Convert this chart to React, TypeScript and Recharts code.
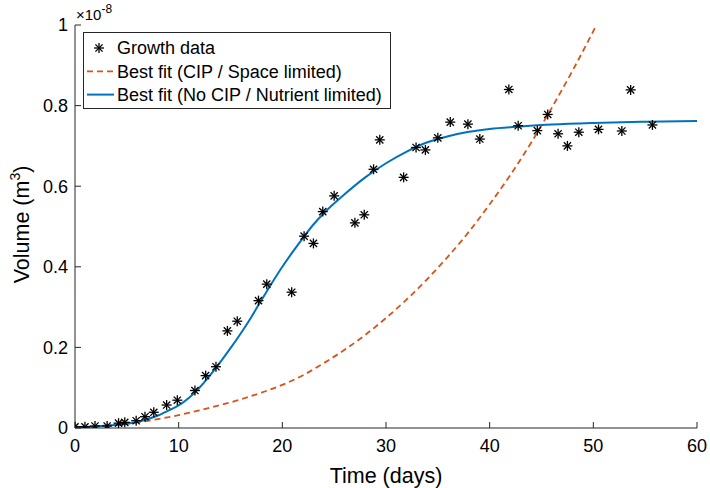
import React from "react"
import { ComposedChart, Line, Scatter, XAxis, YAxis, Legend } from "recharts"

const xTicks = [0, 10, 20, 30, 40, 50, 60]
const yTicks = [0, 0.2, 0.4, 0.6, 0.8, 1]

// measured tumour volume, units of 1e-8 m^3
const growthDays = [
    0, 0.96, 1.93, 3.1, 4.2, 4.8, 5.9, 6.75, 7.6, 8.84, 9.87, 11.57, 12.6, 13.6, 14.7, 15.65,
    17.7, 18.5, 20.9, 22.1, 23.0, 23.9, 25.0, 27.0, 27.9, 28.8, 29.4, 31.7, 32.9, 33.8, 35.0,
    36.2, 37.9, 39.05, 41.85, 42.75, 44.6, 45.6, 46.6, 47.5, 48.6, 50.5, 52.75, 53.6, 55.7,
]
const growthVolume = [
    0.003, 0.003, 0.005, 0.005, 0.012, 0.014, 0.018, 0.028, 0.039, 0.057, 0.069, 0.093, 0.13, 0.152, 0.241, 0.265,
    0.316, 0.357, 0.337, 0.476, 0.458, 0.537, 0.576, 0.509, 0.529, 0.642, 0.715, 0.622, 0.696, 0.69, 0.72,
    0.759, 0.754, 0.717, 0.84, 0.75, 0.738, 0.778, 0.73, 0.7, 0.734, 0.741, 0.737, 0.839, 0.752,
]

// best fit, CIP / space limited
const cipDays = [0, 2, 4, 6, 8, 10, 12, 14, 16, 18, 20, 22, 24, 26, 28, 30, 32, 34, 36, 38, 40, 42, 44, 46, 48, 50, 52]
const cipVolume = [
    0.002, 0.004, 0.008, 0.014, 0.022, 0.032, 0.044, 0.057, 0.071, 0.088, 0.107, 0.131, 0.161, 0.194,
    0.231, 0.273, 0.319, 0.37, 0.426, 0.487, 0.555, 0.628, 0.708, 0.795, 0.887, 0.985, 1.09,
]

// best fit, no CIP / nutrient limited
const nutrientDays = [0, 2, 4, 6, 8, 9, 10, 11, 12, 13, 14, 15, 16, 17, 18, 19, 20, 21, 22, 23, 24, 26, 28, 30, 32, 34, 36, 38, 40, 43, 46, 50, 55, 60]
const nutrientVolume = [
    0.002, 0.004, 0.008, 0.015, 0.031, 0.043, 0.056, 0.075, 0.1, 0.13, 0.163, 0.198, 0.235, 0.275, 0.318,
    0.36, 0.4, 0.437, 0.472, 0.505, 0.533, 0.58, 0.622, 0.657, 0.686, 0.709, 0.724, 0.735, 0.742, 0.748,
    0.753, 0.757, 0.76, 0.762,
]

const growthData = growthDays.map((x, i) => ({ x, v: growthVolume[i] }))
const cipData = cipDays.map((x, i) => ({ x, v: cipVolume[i] }))
const nutrientData = nutrientDays.map((x, i) => ({ x, v: nutrientVolume[i] }))

const axisColor = "#262626"
const blue = "#0072BD"
const orange = "#D95319"
const font = "'Liberation Sans', Arial, Helvetica, sans-serif"

function Star({ cx, cy }: any) {
    const r = 5
    const d = r * 0.72
    return (
        <g stroke="#000" strokeWidth={1.3}>
            <line x1={cx - r} y1={cy} x2={cx + r} y2={cy} />
            <line x1={cx} y1={cy - r} x2={cx} y2={cy + r} />
            <line x1={cx - d} y1={cy - d} x2={cx + d} y2={cy + d} />
            <line x1={cx - d} y1={cy + d} x2={cx + d} y2={cy - d} />
        </g>
    )
}

function BottomTick({ x, y, payload }: any) {
    return (
        <g>
            <line x1={x} y1={y} x2={x} y2={y - 6} stroke={axisColor} />
            <text x={x} y={y + 23.5} textAnchor="middle" fontSize={18} fontFamily={font} fill="#000">
                {payload.value}
            </text>
        </g>
    )
}

function TopTick({ x, y }: any) {
    return <line x1={x} y1={y} x2={x} y2={y + 6} stroke={axisColor} />
}

function LeftTick({ x, y, payload }: any) {
    return (
        <g>
            <line x1={x} y1={y} x2={x + 6} y2={y} stroke={axisColor} />
            <text x={x - 7} y={y} dy="0.36em" textAnchor="end" fontSize={18} fontFamily={font} fill="#000">
                {payload.value}
            </text>
        </g>
    )
}

function RightTick({ x, y }: any) {
    return <line x1={x} y1={y} x2={x - 6} y2={y} stroke={axisColor} />
}

function YLabel({ viewBox }: any) {
    const vb = viewBox || { x: 0, y: 25, width: 75, height: 403 }
    const cy = vb.y + vb.height / 2 - 2
    return (
        <g fontFamily={font} fill="#000">
            <text x={29} y={cy} transform={`rotate(-90 29 ${cy})`} textAnchor="middle" fontSize={21.5}>
                Volume (m<tspan dy={-9} fontSize={14}>3</tspan><tspan dy={9}>)</tspan>
            </text>
            <text x={76} y={20} fontSize={15}>
                ×10<tspan dy={-7} fontSize={12}>-8</tspan>
            </text>
        </g>
    )
}

function LegendBox() {
    const rows = [
        { label: "Growth data", kind: "star" },
        { label: "Best fit (CIP / Space limited)", kind: "dash" },
        { label: "Best fit (No CIP / Nutrient limited)", kind: "solid" },
    ]
    return (
        <svg width={308} height={77} style={{ display: "block" }}>
            <rect x={0.5} y={0.5} width={307} height={76} fill="#fff" stroke={axisColor} />
            {rows.map((r, i) => {
                const cy = 16 + i * 23.3
                return (
                    <g key={r.label}>
                        {r.kind === "star" && <Star cx={16} cy={cy} />}
                        {r.kind === "dash" && (
                            <line x1={4} y1={cy} x2={31} y2={cy} stroke={orange} strokeWidth={1.8} strokeDasharray="6 4" />
                        )}
                        {r.kind === "solid" && <line x1={4} y1={cy} x2={31} y2={cy} stroke={blue} strokeWidth={2} />}
                        <text x={34} y={cy} dy="0.36em" fontSize={18} fontFamily={font} fill="#000">
                            {r.label}
                        </text>
                    </g>
                )
            })}
        </svg>
    )
}

export default function App() {
    return (
        <div style={{ position: "absolute", left: 0, top: 0, background: "#fff" }}>
            <ComposedChart width={710} height={488} margin={{ top: 25, right: 13, bottom: 0, left: 0 }}>
                <XAxis
                    xAxisId="b"
                    type="number"
                    dataKey="x"
                    domain={[0, 60]}
                    ticks={xTicks}
                    height={60}
                    tickSize={0}
                    tickMargin={0}
                    tickLine={false}
                    tick={<BottomTick />}
                    axisLine={{ stroke: axisColor }}
                    allowDataOverflow
                    label={{
                        content: ({ viewBox }: any) => {
                            const vb = viewBox || { x: 75, y: 428, width: 622, height: 60 }
                            return (
                                <text x={vb.x + vb.width / 2} y={vb.y + 55} textAnchor="middle" fontSize={21.5} fontFamily={font} fill="#000">
                                    Time (days)
                                </text>
                            )
                        },
                    }}
                />
                <XAxis
                    xAxisId="t"
                    orientation="top"
                    type="number"
                    dataKey="x"
                    domain={[0, 60]}
                    ticks={xTicks}
                    height={0}
                    tickSize={0}
                    tickMargin={0}
                    tickLine={false}
                    tick={<TopTick />}
                    axisLine={{ stroke: axisColor }}
                    allowDataOverflow
                />
                <YAxis
                    yAxisId="l"
                    type="number"
                    dataKey="v"
                    domain={[0, 1]}
                    ticks={yTicks}
                    width={75}
                    tickSize={0}
                    tickMargin={0}
                    tickLine={false}
                    tick={<LeftTick />}
                    axisLine={{ stroke: axisColor }}
                    allowDataOverflow
                    label={{ content: (p: any) => <YLabel {...p} /> }}
                />
                <YAxis
                    yAxisId="r"
                    orientation="right"
                    type="number"
                    dataKey="v"
                    domain={[0, 1]}
                    ticks={yTicks}
                    width={0}
                    tickSize={0}
                    tickMargin={0}
                    tickLine={false}
                    tick={<RightTick />}
                    axisLine={{ stroke: axisColor }}
                    allowDataOverflow
                />
                <Legend
                    layout="vertical"
                    align="center"
                    verticalAlign="middle"
                    content={() => <LegendBox />}
                    wrapperStyle={{ left: 83, top: 32, width: 308, height: 77 }}
                />
                <Line
                    xAxisId="t"
                    yAxisId="r"
                    data={cipData}
                    dataKey="v"
                    type="monotone"
                    stroke={orange}
                    strokeWidth={1.8}
                    strokeDasharray="6 4"
                    dot={false}
                    activeDot={false}
                    isAnimationActive={false}
                />
                <Line
                    xAxisId="b"
                    yAxisId="l"
                    data={nutrientData}
                    dataKey="v"
                    type="monotone"
                    stroke={blue}
                    strokeWidth={2}
                    dot={false}
                    activeDot={false}
                    isAnimationActive={false}
                />
                <Scatter
                    xAxisId="b"
                    yAxisId="l"
                    data={growthData}
                    dataKey="v"
                    shape={(p: any) => <Star cx={p.cx} cy={p.cy} />}
                    isAnimationActive={false}
                />
            </ComposedChart>
        </div>
    )
}
